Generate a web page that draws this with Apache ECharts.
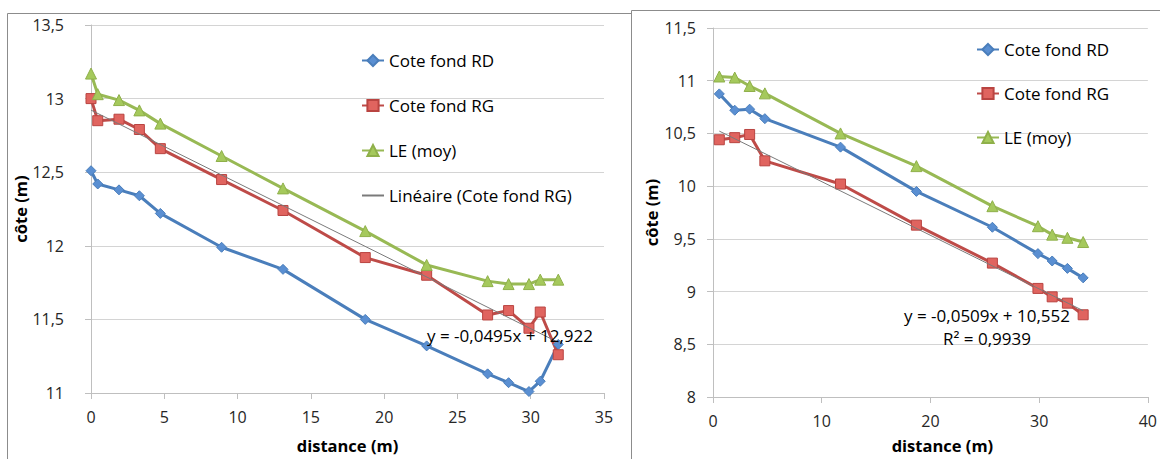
<!DOCTYPE html>
<html>
<head>
<meta charset="utf-8">
<script src="https://cdn.jsdelivr.net/npm/echarts@6/dist/echarts.min.js"></script>
<style>
html,body{margin:0;padding:0;background:#fff;}
#c{width:1160px;height:459px;}
</style>
</head>
<body>
<div id="c"></div>
<script>
// ---- Left chart data ----
const leftDist = [0, 0.46, 1.91, 3.3, 4.73, 8.91, 13.1, 18.71, 22.9, 27.06, 28.49, 29.88, 30.65, 31.88];
const leftRD   = [12.51, 12.42, 12.38, 12.34, 12.22, 11.99, 11.84, 11.50, 11.32, 11.13, 11.07, 11.01, 11.08, 11.33];
const leftRG   = [13.00, 12.85, 12.86, 12.79, 12.66, 12.45, 12.24, 11.92, 11.80, 11.53, 11.56, 11.44, 11.55, 11.26];
const leftLE   = [13.17, 13.03, 12.99, 12.92, 12.83, 12.61, 12.39, 12.10, 11.87, 11.76, 11.74, 11.74, 11.77, 11.77];
const leftTrendX = [0, 31.88];
const leftTrendY = [12.922, 11.344];
const leftEquation = "y = -0,0495x + 12,922";

// ---- Right chart data ----
const rightDist = [0.58, 2.0, 3.37, 4.77, 11.73, 18.71, 25.7, 29.89, 31.2, 32.6, 34.05];
const rightRD   = [10.875, 10.72, 10.73, 10.64, 10.37, 9.95, 9.61, 9.36, 9.29, 9.22, 9.13];
const rightRG   = [10.44, 10.46, 10.49, 10.24, 10.02, 9.63, 9.27, 9.03, 8.95, 8.89, 8.78];
const rightLE   = [11.04, 11.03, 10.95, 10.88, 10.50, 10.19, 9.81, 9.62, 9.54, 9.51, 9.47];
const rightTrendX = [0.58, 34.05];
const rightTrendY = [10.522, 8.819];
const rightEquation = "y = -0,0509x + 10,552";
const rightR2 = "R² = 0,9939";

// ---- Labels ----
const nameRD = "Cote fond RD";
const nameRG = "Cote fond RG";
const nameLE = "LE (moy)";
const nameTrend = "Linéaire (Cote fond RG)";
const xTitle = "distance (m)";
const yTitle = "côte (m)";

const FONT = "Open Sans";
const pair = (xs, ys) => xs.map((x, i) => [x, ys[i]]);
const comma = v => String(v).replace('.', ',');

const blue = {line: '#4a7ebb', fill: '#5a8fd2', border: '#4a7ebb'};
const red = {line: '#be4b48', fill: '#e0645f', border: '#b94441'};
const green = {line: '#98b954', fill: '#a5c95c', border: '#8fb04a'};

function dataSeries(name, xs, ys, c, symbol, size, idx) {
  return {
    name: name, type: 'line', xAxisIndex: idx, yAxisIndex: idx,
    data: pair(xs, ys), symbol: symbol, symbolSize: size,
    lineStyle: {color: c.line, width: 3},
    itemStyle: {color: c.fill, borderColor: c.border, borderWidth: 1},
    emphasis: {disabled: true}, animation: false
  };
}
function trendSeries(name, xs, ys, idx) {
  return {
    name: name, type: 'line', xAxisIndex: idx, yAxisIndex: idx,
    data: pair(xs, ys), symbol: 'none', z: 5,
    lineStyle: {color: '#7a7a7a', width: 1},
    itemStyle: {color: '#7a7a7a'},
    emphasis: {disabled: true}, animation: false
  };
}

const axisLineStyle = {lineStyle: {color: '#bfbfbf', width: 1}};
const gridLine = {show: true, lineStyle: {color: '#d4d4d4', width: 1}};
const labelStyle = {color: '#262626', fontFamily: FONT, fontSize: 16};
const titleStyle = {color: '#000', fontFamily: FONT, fontSize: 16.5, fontWeight: 'bold'};
const legendText = {color: '#000', fontFamily: FONT, fontSize: 17};

const chart = echarts.init(document.getElementById('c'), null, {renderer: 'svg'});
chart.setOption({
  backgroundColor: '#fff',
  animation: false,
  grid: [
    {left: 91, right: 556, top: 25, bottom: 66},
    {left: 713, right: 8, top: 28, bottom: 59}
  ],
  xAxis: [
    {type: 'value', gridIndex: 0, min: 0, max: 35, interval: 5,
     axisLine: axisLineStyle, axisTick: {show: true, length: 6, lineStyle: {color: '#bfbfbf'}},
     splitLine: {show: false},
     axisLabel: Object.assign({margin: 16, formatter: comma}, labelStyle),
     name: xTitle, nameLocation: 'middle', nameGap: 44, nameTextStyle: titleStyle},
    {type: 'value', gridIndex: 1, min: 0, max: 40, interval: 10,
     axisLine: axisLineStyle, axisTick: {show: true, length: 6, lineStyle: {color: '#bfbfbf'}},
     splitLine: {show: false},
     axisLabel: Object.assign({margin: 16, formatter: comma}, labelStyle),
     name: xTitle, nameLocation: 'middle', nameGap: 40,
     nameTextStyle: Object.assign({padding: [0, 0, 0, 24]}, titleStyle)}
  ],
  yAxis: [
    {type: 'value', gridIndex: 0, min: 11, max: 13.5, interval: 0.5,
     axisLine: Object.assign({show: true}, axisLineStyle),
     axisTick: {show: true, length: 6, lineStyle: {color: '#bfbfbf'}},
     splitLine: gridLine,
     axisLabel: Object.assign({margin: 27, formatter: comma}, labelStyle),
     name: yTitle, nameLocation: 'middle', nameGap: 57, nameTextStyle: titleStyle},
    {type: 'value', gridIndex: 1, min: 8, max: 11.5, interval: 0.5,
     axisLine: Object.assign({show: true}, axisLineStyle),
     axisTick: {show: true, length: 6, lineStyle: {color: '#bfbfbf'}},
     splitLine: gridLine,
     axisLabel: Object.assign({margin: 17, formatter: comma}, labelStyle),
     name: yTitle, nameLocation: 'middle', nameGap: 53, nameTextStyle: titleStyle}
  ],
  legend: [
    {orient: 'vertical', left: 356, top: 47, itemGap: 28, itemWidth: 22, itemHeight: 14,
     data: [nameRD, nameRG, nameLE, {name: nameTrend, itemStyle: {opacity: 0}}], selectedMode: false,
     textStyle: legendText},
    {orient: 'vertical', left: 971, top: 36, itemGap: 27, itemWidth: 22, itemHeight: 14,
     data: [nameRD, nameRG, nameLE], selectedMode: false,
     textStyle: legendText}
  ],
  series: [
    dataSeries(nameRD, leftDist, leftRD, blue, 'diamond', 10, 0),
    dataSeries(nameRG, leftDist, leftRG, red, 'rect', 10, 0),
    dataSeries(nameLE, leftDist, leftLE, green, 'triangle', 11, 0),
    trendSeries(nameTrend, leftTrendX, leftTrendY, 0),
    dataSeries(nameRD, rightDist, rightRD, blue, 'diamond', 10, 1),
    dataSeries(nameRG, rightDist, rightRG, red, 'rect', 10, 1),
    dataSeries(nameLE, rightDist, rightLE, green, 'triangle', 11, 1),
    trendSeries(nameTrend + ' ', rightTrendX, rightTrendY, 1)
  ],
  graphic: [
    {type: 'rect', shape: {x: 7.5, y: 13.5, width: 640, height: 500}, z: -10,
     style: {fill: 'none', stroke: '#8c8c8c', lineWidth: 1}, silent: true},
    {type: 'rect', shape: {x: 631.5, y: 10.5, width: 600, height: 500}, z: -9,
     style: {fill: '#fff', stroke: '#8c8c8c', lineWidth: 1}, silent: true},
    {type: 'text', left: 427, top: 327, z: 20,
     style: {text: leftEquation, fill: '#000', font: '17px "Open Sans"'}},
    {type: 'text', x: 987, y: 315, z: 20,
     style: {text: rightEquation, fill: '#000', font: '17px "Open Sans"', align: 'center', verticalAlign: 'middle'}},
    {type: 'text', x: 987, y: 338, z: 20,
     style: {text: rightR2, fill: '#000', font: '17px "Open Sans"', align: 'center', verticalAlign: 'middle'}}
  ]
});
</script>
</body>
</html>
